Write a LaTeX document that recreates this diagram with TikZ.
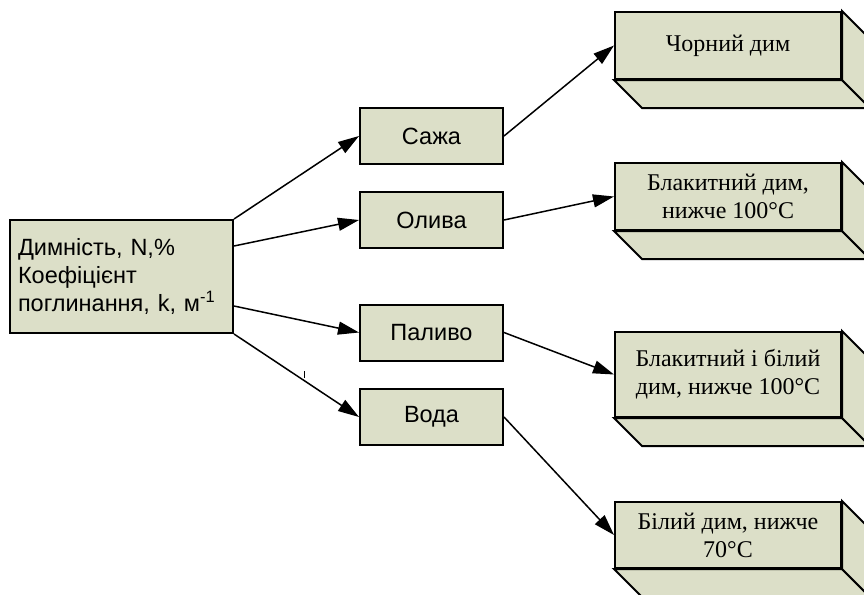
\documentclass[tikz,border=0pt]{standalone}
\usepackage{fontspec}
\setmainfont{Liberation Serif}
\setsansfont{Liberation Sans}
\usepackage{xcolor}
\usepackage{tikz}
\usetikzlibrary{arrows.meta}
\usetikzlibrary{positioning}

\definecolor{boxfill}{RGB}{220,223,200}

\begin{document}
\begin{tikzpicture}[x=1pt,y=-1pt,
    cause/.style={draw,line width=2pt,fill=boxfill,inner sep=0pt,
      font=\sffamily\fontsize{23.5}{28}\selectfont},
    factor/.style={cause,minimum width=143pt,minimum height=56pt},
    effect/.style={draw,line width=2pt,fill=boxfill,inner sep=0pt,align=center,
      minimum width=226pt,font=\fontsize{24}{28}\selectfont},
    link/.style={line width=1.5pt,-{Triangle[length=21pt,width=13pt]}}]

  \useasboundingbox (0,0) rectangle (864,594);

  % main box
  \node[cause,align=left,text width=207pt,inner xsep=8pt,minimum height=113pt]
       (dym) at (121.5,276.5) {Димність, N,\%\\Коефіцієнт\\поглинання, k, м\textsuperscript{-1}};

  % middle column
  \node[factor] (sazha)  at (431.5,136)   {Сажа};
  \node[factor] (olyva)  at (431.5,220)   {Олива};
  \node[factor] (palyvo) at (431.5,332.5) {Паливо};
  \node[factor] (voda)   at (431.5,417)   {Вода};

  % right column (3d boxes)
  \node[effect,minimum height=67pt] (chornyj)   at (728,45.5)  {Чорний дим};
  \node[effect,minimum height=67pt] (blakytnyj) at (728,196.5) {Блакитний дим,\\нижче 100°C};
  \node[effect,minimum height=85pt] (blakbil)   at (728,374.5) {Блакитний і білий\\дим, нижче 100°C};
  \node[effect,minimum height=66pt] (bilyj)     at (728,535)   {Білий дим, нижче\\70°C};

  \foreach \b in {chornyj,blakytnyj,blakbil,bilyj}
  {
    \draw[line width=2pt,fill=boxfill] (\b.south west) -- ([shift={(28,28)}]\b.south west)
      -- ([shift={(28,28)}]\b.south east) -- (\b.south east) -- cycle;
    \draw[line width=2pt,fill=boxfill] (\b.north east) -- ([shift={(28,28)}]\b.north east)
      -- ([shift={(28,28)}]\b.south east) -- (\b.south east) -- cycle;
  }

  % arrows
  \draw[link] (dym.north east) -- (sazha.west);
  \draw[link] ([yshift=-27pt]dym.north east) -- (olyva.west);
  \draw[link] ([yshift=28pt]dym.south east) -- (palyvo.west);
  \draw[link] (dym.south east) -- (voda.west);

  \draw[link] (sazha.east)  -- (chornyj.west);
  \draw[link] (olyva.east)  -- (blakytnyj.west);
  \draw[link] (palyvo.east) -- (blakbil.west);
  \draw[link] (voda.east)   -- (bilyj.west);

  \draw[line width=1pt] (304,371) -- (304,378);% little stray tick

\end{tikzpicture}
\end{document}
